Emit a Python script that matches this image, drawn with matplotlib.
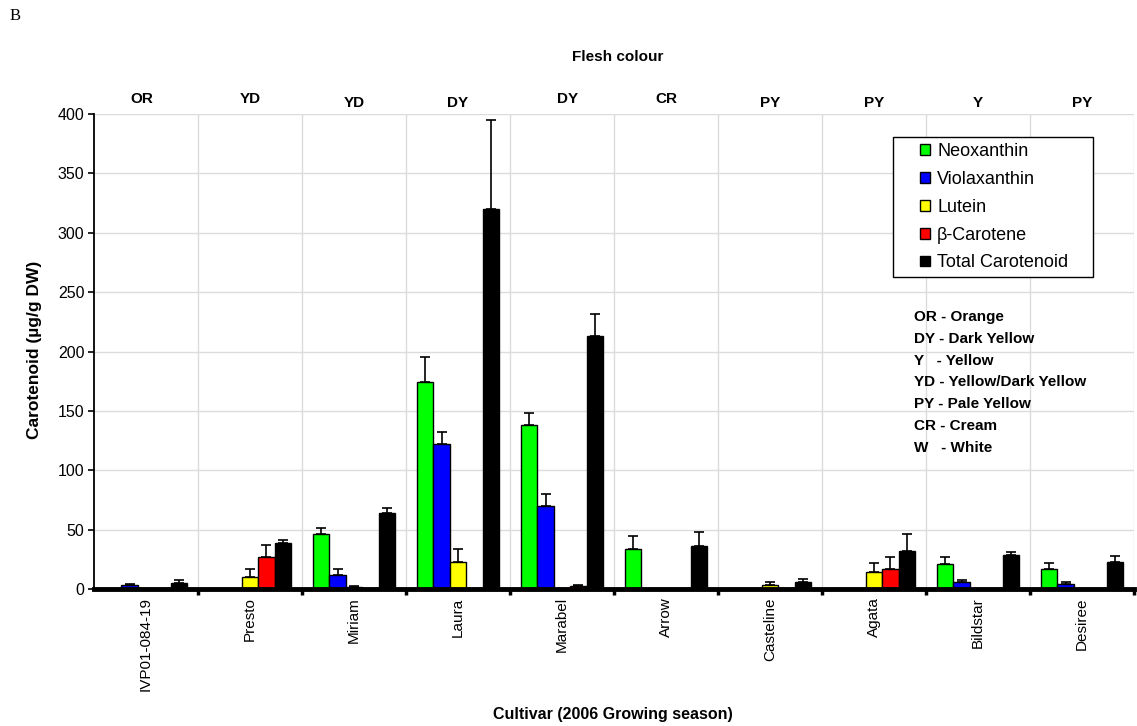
import matplotlib
matplotlib.use("Agg")
import matplotlib.pyplot as plt
import numpy as np
from matplotlib.patches import Rectangle, Patch

plt.rcParams["font.family"] = ["Liberation Sans", "DejaVu Sans"]

# Cultivars and flesh colour codes
cultivars = ["IVP01-084-19", "Presto", "Miriam", "Laura", "Marabel",
             "Arrow", "Casteline", "Agata", "Bildstar", "Desiree"]
flesh = ["OR", "YD", "YD", "DY", "DY", "CR", "PY", "PY", "Y", "PY"]

# Carotenoid content (µg/g DW) and standard errors
neoxanthin = [0, 0, 46, 174, 138, 34, 0, 0, 21, 17]
neoxanthin_err = [0, 0, 5.5, 21, 10, 11, 0, 0, 6, 5]
violaxanthin = [3, 0, 12, 122, 70, 0, 0, 0, 6, 4.5]
violaxanthin_err = [1.5, 0, 4.5, 10, 10, 0, 0, 0, 1.3, 1.3]
lutein = [1, 10, 2, 23, 1, 1, 3.5, 14, 0, 0]
lutein_err = [0, 6.5, 0.5, 11, 0, 0, 2.5, 8, 0, 0]
beta_carotene = [0, 27, 1, 0, 2.5, 0, 1, 17, 0, 0]
beta_carotene_err = [0, 10, 0, 0, 0.5, 0, 0, 10, 0, 0]
total = [5, 38.5, 64, 320, 213, 36, 6, 32, 28.5, 23]
total_err = [2.5, 3, 4, 75, 19, 12, 2.5, 14.5, 3, 5]

series_names = ["Neoxanthin", "Violaxanthin", "Lutein", "\u03b2-Carotene", "Total Carotenoid"]
series_vals = [neoxanthin, violaxanthin, lutein, beta_carotene, total]
series_errs = [neoxanthin_err, violaxanthin_err, lutein_err, beta_carotene_err, total_err]
colors = ["#00ff00", "#0000ff", "#ffff00", "#ff0000", "#000000"]

key_lines = ["OR - Orange", "DY - Dark Yellow", "Y   - Yellow",
             "YD - Yellow/Dark Yellow", "PY - Pale Yellow", "CR - Cream",
             "W   - White"]

W, H = 1137, 726
fig = plt.figure(figsize=(W / 100, H / 100), dpi=100)
ax = fig.add_axes([94 / W, (H - 589) / H, 1040 / W, 475 / H])

x = np.arange(len(cultivars))
bw = 0.158
for k, (vals, errs, c) in enumerate(zip(series_vals, series_errs, colors)):
    pos = x + (k - 2) * bw
    ax.bar(pos, vals, width=bw, color=c, edgecolor="black", linewidth=1.0, zorder=2)
    errs = np.asarray(errs, dtype=float)
    m = errs > 0
    ax.errorbar(pos[m], np.asarray(vals, dtype=float)[m],
                yerr=[np.zeros(m.sum()), errs[m]], fmt="none", ecolor="black",
                elinewidth=1.2, capsize=3.6, capthick=1.2, zorder=3)

ax.set_xlim(-0.5, len(cultivars) - 0.5)
ax.set_ylim(0, 400)
ax.set_yticks(np.arange(0, 401, 50))
ax.set_xticks(x)
ax.set_xticklabels(cultivars, rotation=90, fontsize=11)
ax.set_xticks(np.arange(0.5, len(cultivars), 1.0), minor=True)
ax.tick_params(axis="x", which="major", length=0, pad=6)
ax.tick_params(axis="x", which="minor", length=4, width=2.5, direction="out")
ax.tick_params(axis="y", length=4, width=1.2, direction="out", labelsize=11.5, pad=3)

ax.set_axisbelow(True)
ax.yaxis.grid(True, color="#dcdcdc", linewidth=1.0)
ax.xaxis.grid(True, which="minor", color="#dcdcdc", linewidth=1.0)
ax.xaxis.grid(False, which="major")

for s in ("top", "right"):
    ax.spines[s].set_visible(False)
ax.spines["left"].set_linewidth(1.3)
ax.spines["bottom"].set_linewidth(3.5)

# Flesh colour codes above each cultivar
code_dx = [-0.04, 0.0, 0.0, 0.0, 0.05, 0.0, 0.0, 0.0, 0.0, 0.0]
code_y = [1.031, 1.031, 1.023, 1.023, 1.031, 1.031, 1.023, 1.023, 1.023, 1.023]
for i, code in enumerate(flesh):
    ax.text(i + code_dx[i], code_y[i], code, transform=ax.get_xaxis_transform(),
            ha="center", va="center", fontsize=11, fontweight="bold")

fig.text(618 / W, 1 - 57 / H, "Flesh colour", ha="center", va="center",
         fontsize=11, fontweight="bold")
fig.text(15 / W, 1 - 16 / H, "B", ha="center", va="center", fontsize=12,
         family=["Liberation Serif", "DejaVu Serif"])
fig.text(35 / W, 1 - 350 / H, "Carotenoid (\u00b5g/g DW)", rotation=90,
         ha="center", va="center", fontsize=12.5, fontweight="bold")
fig.text(613 / W, 1 - 715 / H, "Cultivar (2006 Growing season)",
         ha="center", va="center", fontsize=11.5, fontweight="bold")

# Legend with a plain framed box
frame = Rectangle((893 / W, 1 - 277 / H), 200 / W, 140 / H, transform=fig.transFigure,
                  facecolor="white", edgecolor="black", linewidth=1.0, zorder=4,
                  clip_on=False)
ax.add_artist(frame)
handles = [Patch(facecolor=c, edgecolor="black", linewidth=1.0) for c in colors]
leg = ax.legend(handles, series_names, loc="upper left",
                bbox_to_anchor=(920 / W, 1 - 143 / H), bbox_transform=fig.transFigure,
                frameon=False, borderpad=0, borderaxespad=0, handlelength=0.55,
                handleheight=0.55, handletextpad=0.4, labelspacing=0.6, fontsize=13)
leg.set_zorder(5)

# Key to flesh colour codes
for j, line in enumerate(key_lines):
    fig.text(914 / W, 1 - (317 + j * 21.8) / H, line, ha="left", va="center",
             fontsize=11, fontweight="bold")

fig.savefig("out.png", dpi=100)
